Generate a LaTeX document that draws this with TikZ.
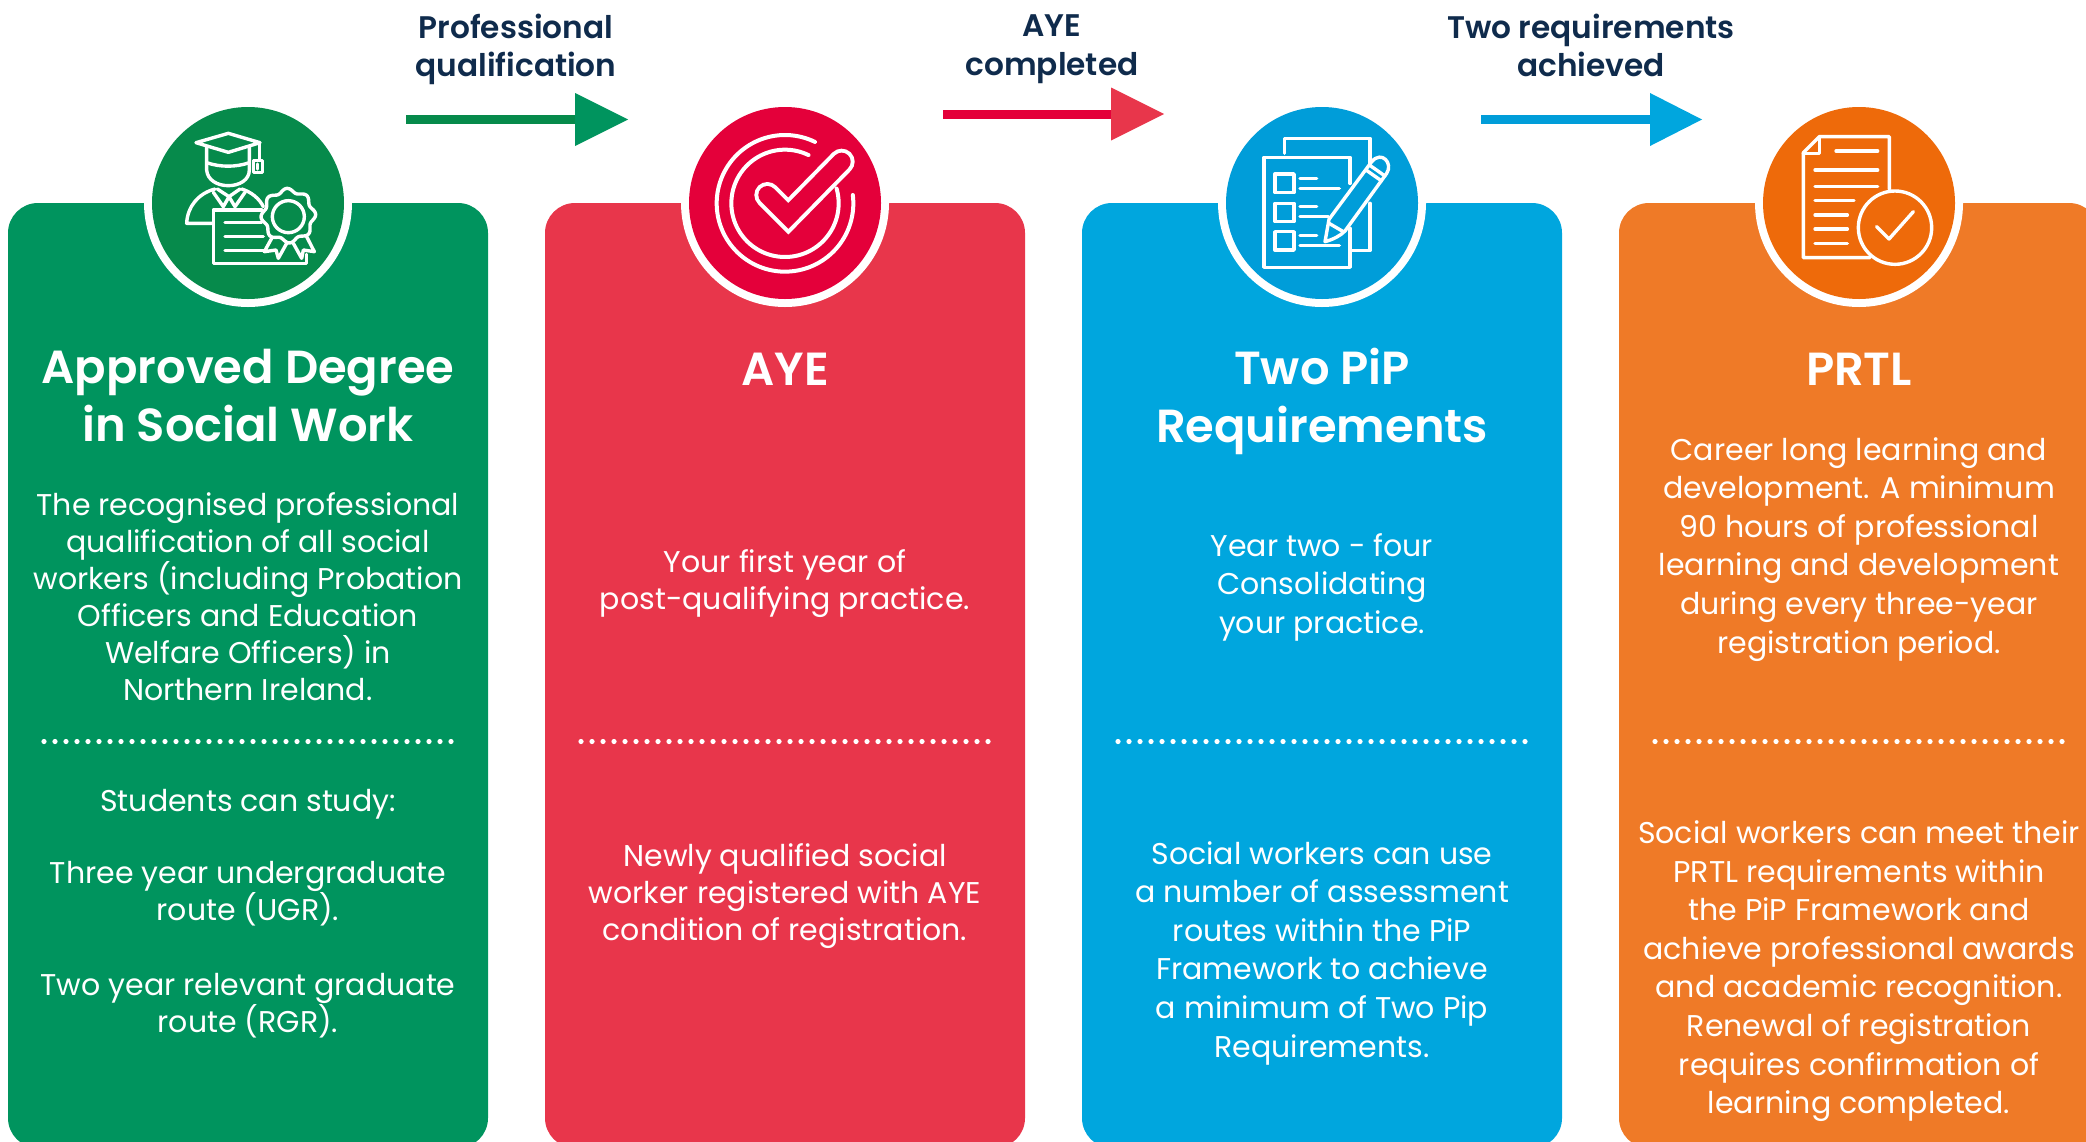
\documentclass[tikz,border=0pt]{standalone}
\usepackage{fontspec}
\setmainfont{Poppins}[BoldFont={Poppins SemiBold}]
\definecolor{gcard}{HTML}{00945E}\definecolor{gcirc}{HTML}{068A4B}
\definecolor{rcard}{HTML}{E8364B}\definecolor{rcirc}{HTML}{E4003A}
\definecolor{bcard}{HTML}{00A6DE}\definecolor{bcirc}{HTML}{009DD9}
\definecolor{ocard}{HTML}{EF7A27}\definecolor{ocirc}{HTML}{EE6A0A}
\definecolor{navy}{HTML}{0F2B4C}
\tikzset{
 x=0.5pt,y=-0.5pt,
 cardbox/.style={rounded corners=15pt},
 ring/.style={circle,fill=white,minimum size=104pt,inner sep=0pt},
 disc/.style={circle,minimum size=96pt,inner sep=0pt},
 struts/.style={execute at begin node={\strut},execute at end node={\strut}},
 ttl/.style={struts,text=white,font=\fontsize{23.2}{29.3}\selectfont\bfseries,align=center,inner sep=0pt},
 body/.style={struts,text=white,font=\fontsize{15}{18.5}\selectfont,align=center,inner sep=0pt},
 bodywide/.style={struts,text=white,font=\fontsize{15}{19.3}\selectfont,align=center,inner sep=0pt},
 lab/.style={struts,text=navy,font=\fontsize{15.6}{19.3}\selectfont\bfseries,align=center,inner sep=0pt},
 dots/.style={white,line width=2.6pt,line cap=round,dash pattern=on 0pt off 5.5pt},
 ico/.style={white,line width=1.7pt,line cap=round,line join=round},
 zoomed/.style={shift={(#1)},scale=1/3},
}
\begin{document}
\begin{tikzpicture}
\useasboundingbox (0,0) rectangle (2086,1141);
\clip (0,0) rectangle (2086,1141);
% cards
\fill[gcard,cardbox] (8,203) rectangle (488,1148);
\fill[rcard,cardbox] (545,203) rectangle (1025,1148);
\fill[bcard,cardbox] (1082,203) rectangle (1562,1148);
\fill[ocard,cardbox] (1619,203) rectangle (2099,1148);
% circles
\node[ring] (r1) at (248,203) {};
\node[disc,fill=gcirc] (c1) at (248,203) {};
\node[ring] (r2) at (785,203) {};
\node[disc,fill=rcirc] (c2) at (785,203) {};
\node[ring] (r3) at (1322,203) {};
\node[disc,fill=bcirc] (c3) at (1322,203) {};
\node[ring] (r4) at (1859,203) {};
\node[disc,fill=ocirc] (c4) at (1859,203) {};
% arrows
\coordinate (a1s) at (406,119.5);\coordinate (a1m) at (575,119.5);\coordinate (a1e) at (628,119.5);
\coordinate (a2s) at (943,114);\coordinate (a2m) at (1111,114);\coordinate (a2e) at (1164,114);
\coordinate (a3s) at (1481,119.5);\coordinate (a3m) at (1650,119.5);\coordinate (a3e) at (1702,119.5);
\draw[gcirc,line width=4.5pt] (a1s) -- (a1m);
\fill[gcard] (a1e) -- ([yshift=13.25pt]a1m) -- ([yshift=-13.25pt]a1m) -- cycle;
\draw[rcirc,line width=4.5pt] (a2s) -- (a2m);
\fill[rcard] (a2e) -- ([yshift=13.25pt]a2m) -- ([yshift=-13.25pt]a2m) -- cycle;
\draw[bcirc,line width=4.5pt] (a3s) -- (a3m);
\fill[bcard] (a3e) -- ([yshift=13.25pt]a3m) -- ([yshift=-13.25pt]a3m) -- cycle;
% arrow labels
\node[lab] (l1) at (516,51) {Professional\\qualification};
\node[lab] (l2) at (1052,51) {AYE\\completed};
\node[lab] (l3) at (1591,51) {Two requirements\\achieved};
% titles
\node[ttl] (t1) at (248,404) {Approved Degree\\in Social Work};
\node[ttl] (t2) at (785,374) {AYE};
\node[ttl] (t3) at (1322,404) {Two PiP\\Requirements};
\node[ttl] (t4) at (1859,374) {PRTL};
% bodies
\node[body] (b1a) at (248,602) {The recognised professional\\qualification of all social\\workers (including Probation\\Officers and Education\\Welfare Officers) in\\Northern Ireland.};
\node[body] (b1b) at (248,804) {Students can study:};
\node[body] (b1c) at (248,896) {Three year undergraduate\\route (UGR).};
\node[body] (b1d) at (248,1008) {Two year relevant graduate\\route (RGR).};
\node[body] (b2a) at (785,585) {Your first year of\\post-qualifying practice.};
\node[body] (b2b) at (785,898) {Newly qualified social\\worker registered with AYE\\condition of registration.};
\node[bodywide] (b3a) at (1322,589) {Year two - four\\Consolidating\\your practice.};
\node[bodywide] (b3b) at (1322,955) {Social workers can use\\a number of assessment\\routes within the PiP\\Framework to achieve\\a minimum of Two Pip\\Requirements.};
\node[bodywide] (b4a) at (1859,551) {Career long learning and\\development. A minimum\\90 hours of professional\\learning and development\\during every three-year\\registration period.};
\node[bodywide] (b4b) at (1859,973) {Social workers can meet their\\PRTL requirements within\\the PiP Framework and\\achieve professional awards\\and academic recognition.\\Renewal of registration\\requires confirmation of\\learning completed.};
% dotted rules
\draw[dots] (44,741.5) -- (457,741.5);
\draw[dots] (581,741.5) -- (994,741.5);
\draw[dots] (1118,741.5) -- (1531,741.5);
\draw[dots] (1655,741.5) -- (2068,741.5);
% icon 1
\begin{scope}[zoomed={130,95},ico]
\draw (198,143) -- (295,115) -- (390,143) -- (295,172) -- cycle;
\draw (230,155) -- (230,225) .. controls (232,255) and (262,272) .. (295,272) .. controls (328,272) and (358,255) .. (358,225) -- (358,155);
\draw (230,203) .. controls (270,217) and (318,217) .. (358,203);
\draw (388,143) -- (388,192);
\draw (370,197) -- (398,197) -- (398,232) -- (370,232) -- cycle;
\draw (383,207) -- (383,222);
\draw (255,282) .. controls (205,295) and (172,335) .. (170,385) -- (245,385);
\draw (335,282) .. controls (362,290) and (388,310) .. (400,335);
\draw (250,292) -- (280,335) -- (297,305) -- (315,335) -- (345,292);
\draw (262,282) -- (297,305) -- (330,282);
\draw (395,345) -- (250,345) -- (250,505) -- (530,505) -- (530,478);
\draw (285,382) -- (395,382);
\draw (285,425) -- (400,425);
\draw (285,467) -- (410,467);
\draw[domain=0:360,samples=121,smooth] plot ({475+(76+6*cos(8*\x+22))*cos(\x)},{362+(76+6*cos(8*\x+22))*sin(\x)});
\draw (475,365) circle [radius=48];
\draw (425,430) -- (403,470) -- (438,465) -- (445,490) -- (470,445);
\draw (490,445) -- (515,490) -- (520,465) -- (553,470) -- (530,425);
\end{scope}
% icon 2
\begin{scope}[zoomed={650,80},ico,line width=2pt]
\draw[domain=-367:-64,samples=100] plot ({405+205*cos(\x)},{370+205*sin(\x)});
\draw[domain=-376:-64,samples=100] plot ({405+161*cos(\x)},{370+161*sin(\x)});
\draw[line width=13pt,line cap=round,line join=miter] (352,345) -- (415,408) -- (575,245);
\draw[rcirc,line width=9pt,line cap=round,line join=miter] (352,345) -- (415,408) -- (575,245);
\end{scope}
% icon 3
\begin{scope}[zoomed={1190,100},ico]
\draw (283,160) -- (283,115) -- (540,115) -- (540,190);
\draw (540,310) -- (540,452) -- (485,452);
\draw (480,250) -- (480,172) -- (222,172) -- (222,502) -- (480,502) -- (480,385);
\draw (255,222) rectangle (312,278);
\draw (255,310) rectangle (312,365);
\draw (255,395) rectangle (312,450);
\draw (330,235) -- (380,235);
\draw (330,265) -- (448,265);
\draw (330,320) -- (380,320);
\draw (330,350) -- (415,350);
\draw (330,407) -- (380,407);
\draw (330,437) -- (448,437);
\draw (417,358) -- (405,425) .. controls (430,418) and (450,408) .. (465,393) -- (590,220) .. controls (610,190) and (575,150) .. (545,185) -- cycle;
\draw (417,370) -- (460,395);
\draw (538,195) -- (585,228);
\draw (528,210) -- (575,243);
\end{scope}
% icon 4
\begin{scope}[zoomed={1730,90},ico]
\draw (478,298) -- (478,140) -- (268,140) -- (220,188) -- (220,503) -- (420,503);
\draw (268,140) -- (268,190) -- (220,190);
\draw (318,183) -- (443,183);
\draw (255,240) -- (443,240);
\draw (255,290) -- (443,290);
\draw (255,332) -- (372,332);
\draw (255,375) -- (352,375);
\draw (255,417) -- (352,417);
\draw (255,460) -- (352,460);
\draw (495,413) circle [radius=110];
\draw (440,410) -- (477,447) -- (550,365);
\end{scope}
\end{tikzpicture}
\end{document}
